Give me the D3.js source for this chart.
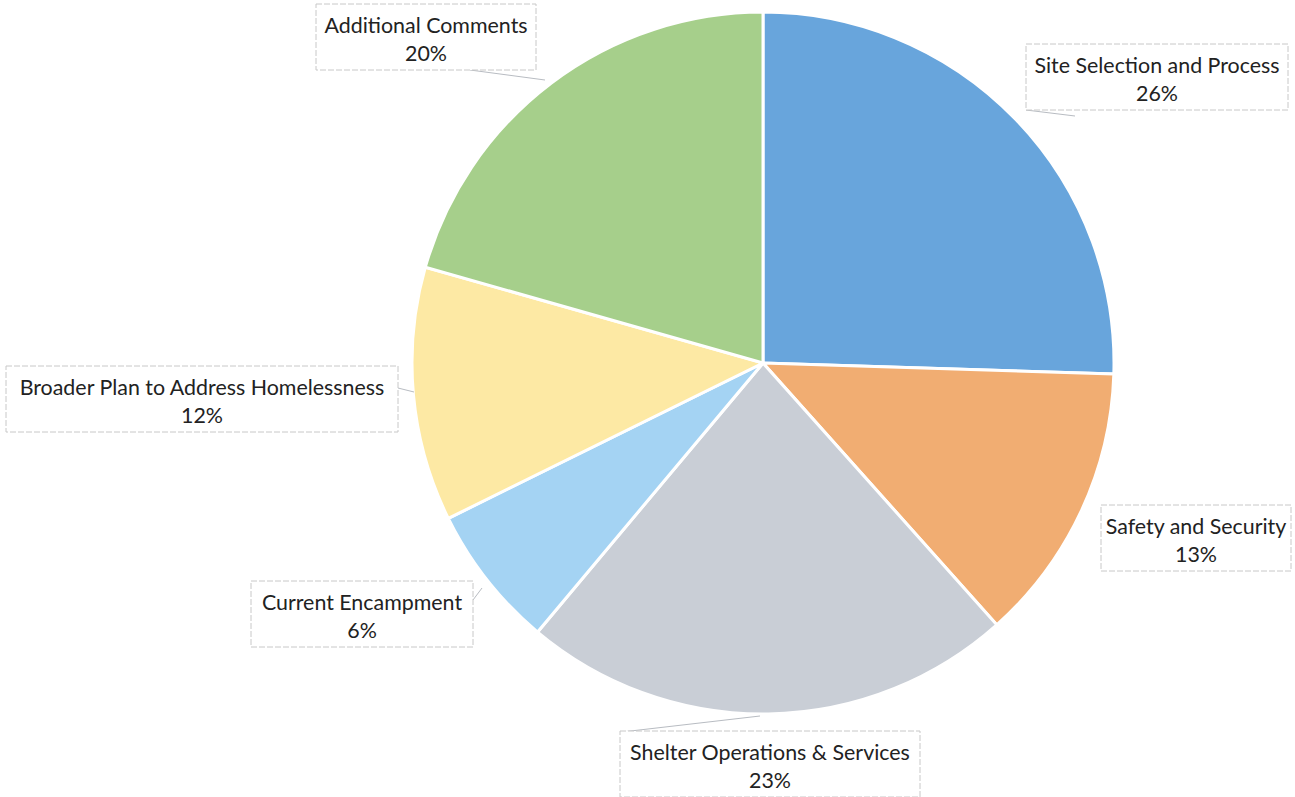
<!DOCTYPE html>
<html>
<head>
<meta charset="utf-8">
<script src="https://cdn.jsdelivr.net/npm/d3@7"></script>
<style>
  body { margin: 0; background: #fff; }
  svg { display: block; }
  .lbl { font-family: Lato, "Open Sans", sans-serif; font-size: 21.4px; fill: #222; }
</style>
</head>
<body>
<div id="chart"></div>
<script>
// Chart data
const categories = [
    'Site Selection and Process',
    'Safety and Security',
    'Shelter Operations & Services',
    'Current Encampment',
    'Broader Plan to Address Homelessness',
    'Additional Comments'
];
// slice shares
const values = [25.5, 12.9, 22.7, 6.6, 11.7, 20.6];
// percentages as printed on the labels
const pctLabels = ['26%', '13%', '23%', '6%', '12%', '20%'];
const colors = ['#68a5dc', '#f1ad72', '#c9ced6', '#a4d3f3', '#fde9a4', '#a6cf8b'];

// Label box layout (centre x, top y, width) - positions only
const boxes = [
    { cx: 1157, top: 44, w: 262 },
    { cx: 1196, top: 505, w: 190 },
    { cx: 770, top: 731, w: 300 },
    { cx: 362, top: 581, w: 222 },
    { cx: 202, top: 366, w: 392 },
    { cx: 426, top: 4, w: 220 }
];
// leader line endpoints (from box to pie edge)
const leaders = [
    [[1026, 110], [1075, 116]],
    null,
    [[622, 732], [760, 716]],
    [[473, 600], [482, 588]],
    [[398, 388], [414, 392]],
    [[470, 70], [545, 80]]
];

const width = 1295, height = 797;
const cx = 763, cy = 363, radius = 351;

const svg = d3.select('#chart')
    .append('svg')
    .attr('width', width)
    .attr('height', height);

const pie = d3.pie().sort(null).value(d => d)(values);
const arc = d3.arc().innerRadius(0).outerRadius(radius);

const g = svg.append('g').attr('transform', `translate(${cx},${cy})`);

g.selectAll('path')
    .data(pie)
    .enter()
    .append('path')
    .attr('d', arc)
    .style('fill', (d, i) => colors[i])
    .style('stroke', '#fff')
    .style('stroke-width', '3px');

// leader lines
leaders.forEach(l => {
    if (!l) return;
    svg.append('line')
        .attr('x1', l[0][0]).attr('y1', l[0][1])
        .attr('x2', l[1][0]).attr('y2', l[1][1])
        .style('stroke', '#b8bcc2')
        .style('stroke-width', '1px');
});

// label boxes
boxes.forEach((b, i) => {
    const lg = svg.append('g');
    lg.append('rect')
        .attr('x', b.cx - b.w / 2)
        .attr('y', b.top)
        .attr('width', b.w)
        .attr('height', 66)
        .style('fill', '#fff')
        .style('stroke', '#c8c8c8')
        .style('stroke-width', '1px')
        .style('stroke-dasharray', '6,2');
    lg.append('text')
        .attr('class', 'lbl')
        .attr('x', b.cx)
        .attr('y', b.top + 29)
        .attr('text-anchor', 'middle')
        .text(categories[i]);
    lg.append('text')
        .attr('class', 'lbl')
        .attr('x', b.cx)
        .attr('y', b.top + 57)
        .attr('text-anchor', 'middle')
        .text(pctLabels[i]);
});
</script>
</body>
</html>
